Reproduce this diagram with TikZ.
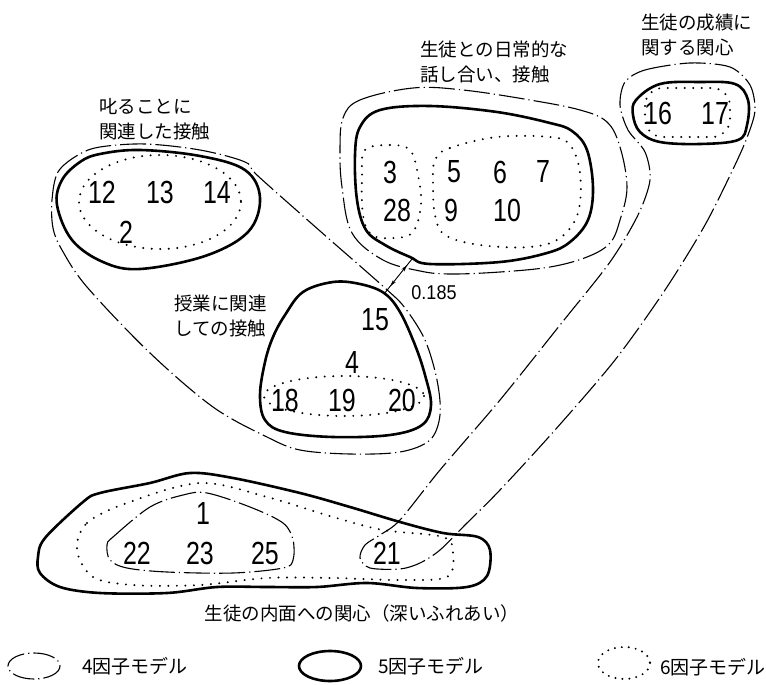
\documentclass[tikz,border=0pt]{standalone}
\usepackage{fontspec}
\newfontfamily\jp{Noto Sans CJK JP}
\newfontfamily\numf[FakeStretch=0.78]{Liberation Sans}
\newfontfamily\smallnum[FakeStretch=0.9]{Liberation Sans}
\usetikzlibrary{arrows.meta,decorations.markings}
\begin{document}
\begin{tikzpicture}[x=1pt,y=-1pt,
  fivem/.style={line width=2.6pt, line join=round},
  fourm/.style={line width=1.1pt, dash pattern=on 26pt off 4pt on 1.2pt off 4pt},
  sixm/.style={line width=2.2pt, line cap=round, dash pattern=on 0pt off 8.5pt},
  num/.style={font=\numf\fontsize{32}{32}\selectfont, inner sep=0pt},
  lab/.style={font=\jp\fontsize{18.5}{25}\selectfont, align=left, inner sep=0pt, anchor=west},
  leg/.style={font=\jp\fontsize{19}{20}\selectfont, inner sep=0pt, anchor=west}]
\useasboundingbox (0,0) rectangle (766,685);
\fill[white] (0,0) rectangle (766,685);

% ---------- cluster A (scolding) ----------
\draw[fivem] plot[smooth cycle, tension=0.6] coordinates {
 (57,205) (62,180) (80,162) (100,154) (140,150) (200,156) (245,170) (260,198)
 (248,232) (205,256) (140,269) (103,262) (72,240)};
\draw[sixm] (160,202) ellipse [x radius=81, y radius=47];

% ---------- cluster B (lesson) ----------
\draw[fivem] plot[smooth cycle, tension=0.6] coordinates {
 (333,282) (303,292) (285,315) (273,337) (265,362) (260,395) (265,420) (285,432)
 (333,437) (390,435) (422,425) (431,405) (425,375) (415,345) (400,312) (384,293) (360,284)};
\draw[sixm] (344,396) ellipse [x radius=80, y radius=20];

% ---------- 4-factor outline around A and B ----------
\draw[fourm] plot[smooth cycle, tension=0.55] coordinates {
 (52,200) (58,172) (78,155) (100,147) (145,144) (200,150) (245,162) (258,176)
 (320,231) (385,288) (405,308) (425,340) (437,380) (440,415) (430,440) (400,452)
 (350,454) (300,450) (267,437) (213,407) (150,353) (87,287) (62,250) (53,228)};

% ---------- cluster C (daily) ----------
\draw[fivem] plot[smooth cycle, tension=0.6] coordinates {
 (360,127) (380,110) (430,106) (497,112) (550,123) (572,131) (587,150) (593,188)
 (588,220) (570,242) (547,253) (500,262) (430,264) (410,257) (385,245) (366,230)
 (357,200) (355,155)};
\draw[sixm] plot[smooth cycle, tension=0.6] coordinates {
 (365,150) (390,145) (410,150) (418,175) (421,205) (413,232) (395,238) (372,235)
 (363,215) (362,175)};
\draw[sixm] plot[smooth cycle, tension=0.6] coordinates {
 (435,160) (450,148) (497,137) (550,137) (570,145) (580,173) (578,213) (560,238)
 (530,247) (480,245) (445,235) (435,215) (433,185)};
\draw[fourm] plot[smooth cycle, tension=0.6] coordinates {
 (343,118) (360,100) (413,88) (463,90) (530,100) (580,110) (607,122) (620,147)
 (627,187) (620,220) (610,243) (587,257) (550,267) (500,272) (450,274) (420,271)
 (383,260) (352,233) (342,187) (340,150)};

% ---------- cluster D (grades) ----------
\draw[fivem] plot[smooth cycle, tension=0.6] coordinates {
 (636,100) (660,84) (700,82) (735,84) (748,100) (747,125) (738,140) (700,144)
 (660,142) (640,132) (633,115)};
\draw[sixm, rounded corners=18pt] (645,88) rectangle (730,137);

% ---------- cluster E (inner) ----------
\draw[fivem] plot[smooth cycle, tension=0.55] coordinates {
 (38,557) (45,538) (83,502) (100,493) (150,483) (190,473) (233,478) (300,493)
 (350,507) (400,522) (443,533) (478,537) (490,550) (487,576) (467,587) (417,588)
 (367,583) (317,587) (267,587) (217,587) (167,593) (100,593) (60,587) (40,573)};
\draw[sixm] plot[smooth cycle, tension=0.55] coordinates {
 (77,550) (87,523) (127,503) (200,483) (267,497) (333,517) (383,530) (443,537)
 (453,553) (447,577) (400,580) (333,578) (267,578) (200,585) (133,585) (93,577)};
\draw[fourm] plot[smooth cycle, tension=0.55] coordinates {
 (107,545) (113,537) (150,507) (183,495) (207,493) (250,507) (283,523) (293,540)
 (293,560) (283,568) (233,573) (167,572) (127,568) (110,560)};

% ---------- 4-factor outline around D reaching down to 21 ----------
\draw[fourm] plot[smooth cycle, tension=0.5] coordinates {
 (625,82) (645,70) (690,63) (730,67) (750,85) (755,110) (748,135) (735,165)
 (705,225) (665,290) (615,360) (555,430) (500,490) (465,525) (440,550) (420,563)
 (400,569) (370,568) (360,558) (365,545) (380,535) (400,520) (440,470) (500,400)
 (560,325) (610,262) (638,215) (650,180) (645,152) (628,130) (620,105)};

% ---------- correlation arrow ----------
\coordinate (arrC) at (412,259);
\coordinate (arrB) at (384,294);
\draw[line width=0.9pt, decoration={markings,
   mark=at position 0.33 with {\arrow{Stealth[length=7pt,width=3.5pt,reversed]}},
   mark=at position 0.78 with {\arrow{Stealth[length=7pt,width=3.5pt]}}},
   postaction={decorate}] (arrC) -- (arrB);
\node[font=\smallnum\fontsize{20}{20}\selectfont, inner sep=0pt] (r185) at (434,293) {0.185};

% ---------- item numbers ----------
\node[num] (n12) at (102,192) {12};
\node[num] (n13) at (160,192) {13};
\node[num] (n14) at (217,192) {14};
\node[num] (n2)  at (126,232) {2};
\node[num] (n15) at (375,320) {15};
\node[num] (n4)  at (352,362) {4};
\node[num] (n18) at (285,400) {18};
\node[num] (n19) at (342,400) {19};
\node[num] (n20) at (402,400) {20};
\node[num] (n3)  at (390,172) {3};
\node[num] (n28) at (397,210) {28};
\node[num] (n5)  at (454,172) {5};
\node[num] (n6)  at (500,172) {6};
\node[num] (n7)  at (543,171) {7};
\node[num] (n9)  at (451,210) {9};
\node[num] (n10) at (507,210) {10};
\node[num] (n16) at (658,113) {16};
\node[num] (n17) at (715,113) {17};
\node[num] (n1)  at (203,513) {1};
\node[num] (n22) at (137,553) {22};
\node[num] (n23) at (200,553) {23};
\node[num] (n25) at (265,553) {25};
\node[num] (n21) at (387,553) {21};

% ---------- group labels ----------
\node[lab] (labA) at (99,119) {叱ることに\\関連した接触};
\node[lab] (labB) at (174,316) {授業に関連\\しての接触};
\node[lab] (labC) at (420,62) {生徒との日常的な\\話し合い、接触};
\node[lab] (labD) at (641,35) {生徒の成績に\\関する関心};
\node[lab, anchor=center] (labE) at (362,613) {生徒の内面への関心（深いふれあい）};

% ---------- legend ----------
\draw[fourm, dash pattern=on 22pt off 4pt on 1.2pt off 4pt] (34,666) ellipse [x radius=26, y radius=13];
\node[leg] (leg4) at (82,666) {4因子モデル};
\draw[fivem] (330,666) ellipse [x radius=31, y radius=15];
\node[leg] (leg5) at (378,666) {5因子モデル};
\draw[sixm, dash pattern=on 0pt off 7pt] (624,663) ellipse [x radius=26, y radius=16];
\node[leg] (leg6) at (660,667) {6因子モデル};
\end{tikzpicture}
\end{document}
